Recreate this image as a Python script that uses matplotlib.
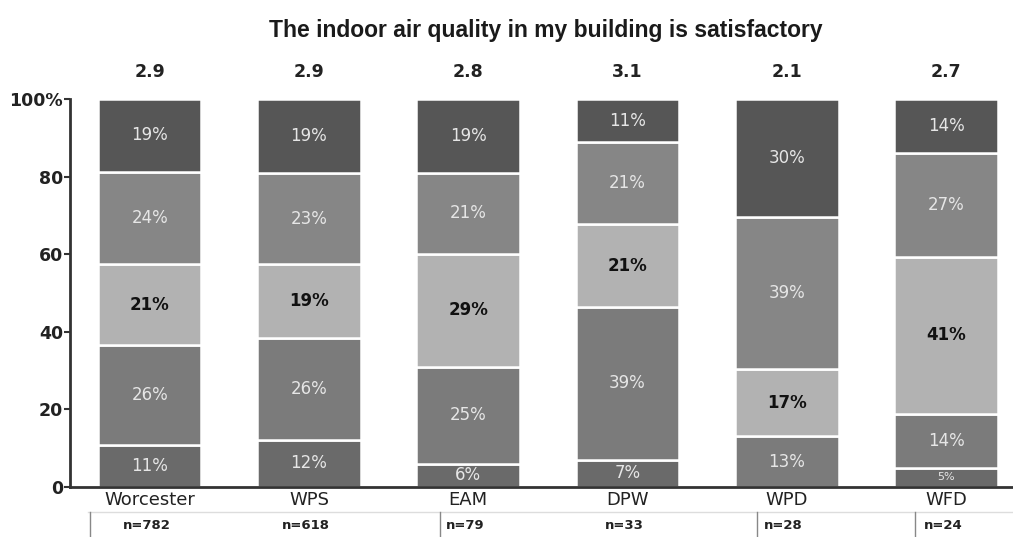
import numpy as np
import matplotlib
matplotlib.use('Agg')
import matplotlib.pyplot as plt

# 数据
categories = ['Worcester', 'WPS', 'EAM', 'DPW', 'WPD', 'WFD']
means = ['2.9', '2.9', '2.8', '3.1', '2.1', '2.7']
counts = ['n=782', 'n=618', 'n=79', 'n=33', 'n=28', 'n=24']

strongly_disagree = [11, 12, 6, 7, 0, 5]
disagree = [26, 26, 25, 39, 13, 14]
neutral = [21, 19, 29, 21, 17, 41]
agree = [24, 23, 21, 21, 39, 27]
strongly_agree = [19, 19, 19, 11, 30, 14]

series = [strongly_disagree, disagree, neutral, agree, strongly_agree]
colors = ['#6a6a6a', '#7b7b7b', '#b2b2b2', '#868686', '#565656']
text_colors = ['#e6e6e6', '#e6e6e6', '#111111', '#e6e6e6', '#e6e6e6']
text_weights = ['normal', 'normal', 'bold', 'normal', 'normal']

fig = plt.figure(figsize=(10.13, 5.37), dpi=100)
ax = fig.add_axes([70 / 1013, 50 / 537, 943 / 1013, 388 / 537])

x = np.arange(len(categories))
# 每根柱子归一化到100%
totals = np.sum(np.array(series, dtype=float), axis=0)
bottom = np.zeros(len(categories))
for vals, c, tc, tw in zip(series, colors, text_colors, text_weights):
    raw = np.array(vals, dtype=float)
    h = raw / totals * 100
    ax.bar(x, h, width=0.65, bottom=bottom, color=c, edgecolor='white', linewidth=1.8)
    for xi, v, hv, b in zip(x, raw, h, bottom):
        if v <= 0:
            continue
        fs = 8 if v < 6 else 12
        ax.text(xi, b + hv / 2, f'{int(v)}%', ha='center', va='center',
                color=tc, fontsize=fs, fontweight=tw)
    bottom += h

# 平均值
for xi, m in zip(x, means):
    ax.text(xi, 107, m, ha='center', va='center', fontsize=12.5, fontweight='bold',
            color='#222222', clip_on=False)

# 样本数
for xi, n in zip(x, counts):
    ax.text(xi - 0.02, -9.8, n, ha='center', va='center', fontsize=9.5, fontweight='bold',
            color='#222222', clip_on=False)

ax.set_xlim(-0.5, 5.42)
ax.set_ylim(0, 100)
ax.set_yticks([0, 20, 40, 60, 80, 100])
ax.set_yticklabels(['0', '20', '40', '60', '80', '100%'], fontsize=12.5, fontweight='bold',
                   color='#222222')
ax.set_xticks(x)
ax.set_xticklabels(categories, fontsize=13, color='#222222')
ax.tick_params(axis='x', length=0, pad=3)
ax.tick_params(axis='y', length=4, width=1.5, pad=1, color='#333333')
for s in ['top', 'right']:
    ax.spines[s].set_visible(False)
for s in ['left', 'bottom']:
    ax.spines[s].set_linewidth(2)
    ax.spines[s].set_color('#333333')

# 表格线
fig.add_artist(plt.Line2D([88 / 1013, 1], [1 - 512 / 537] * 2, color='#dddddd', lw=1))
for px in [90, 440, 757, 915]:
    fig.add_artist(plt.Line2D([px / 1013] * 2, [0, 1 - 512 / 537], color='#888888', lw=1))

fig.suptitle('The indoor air quality in my building is satisfactory', x=546 / 1013, y=1 - 30 / 537,
             va='center', fontsize=16.5, fontweight='bold', family='Liberation Sans',
             color='#1a1a1a')

fig.savefig('out.png', dpi=100)
